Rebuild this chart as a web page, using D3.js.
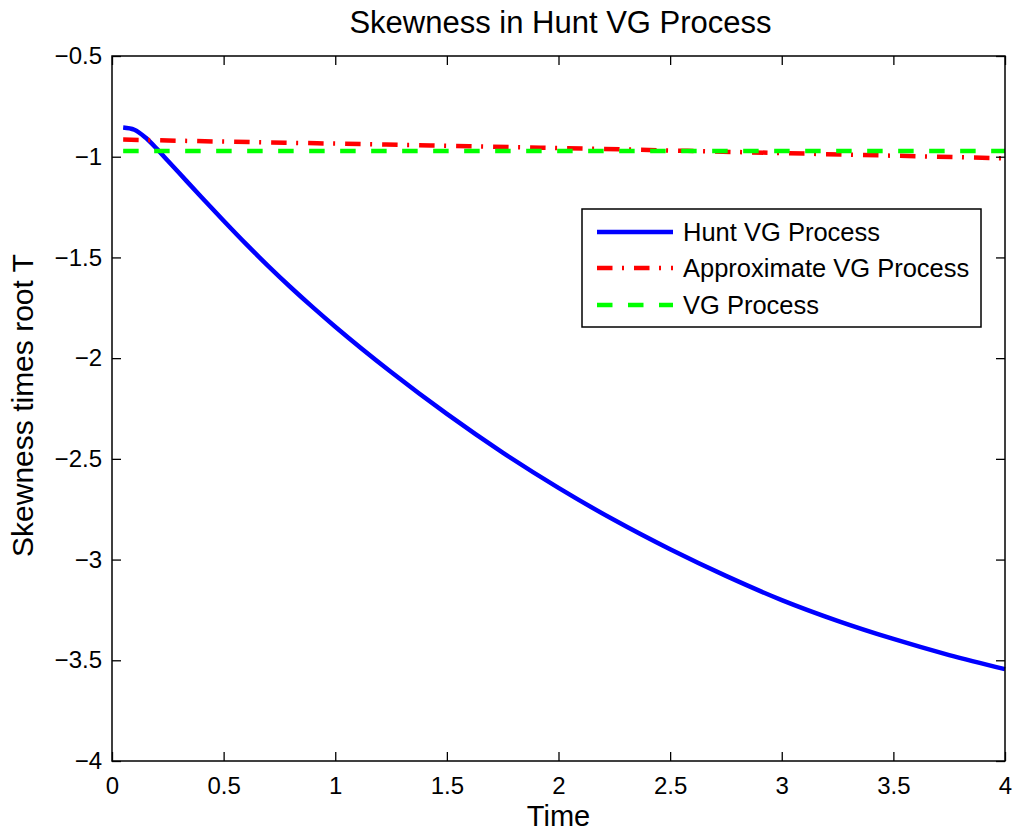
<!DOCTYPE html>
<html>
<head>
<meta charset="utf-8">
<script src="https://cdn.jsdelivr.net/npm/d3@7"></script>
<style>
  html, body { margin: 0; padding: 0; background: #fff; }
  svg { display: block; }
  text { font-family: "Liberation Sans", Arial, Helvetica, sans-serif; fill: #000; }
</style>
</head>
<body>
<svg id="chart" width="1015" height="831"></svg>
<script>
// Time grid (years) and skewness × sqrt(T) for each process
const huntTime = [0.05, 0.1, 0.15, 0.2, 0.25, 0.3, 0.4, 0.5, 0.6, 0.7, 0.8, 0.9, 1.0,
                  1.25, 1.5, 1.75, 2.0, 2.25, 2.5, 2.75, 3.0, 3.25, 3.5, 3.75, 4.0];
const huntSkew = [-0.855, -0.866, -0.905, -0.960, -1.020, -1.080, -1.200, -1.318, -1.433,
                  -1.543, -1.648, -1.748, -1.844, -2.069, -2.277, -2.469, -2.644, -2.804,
                  -2.949, -3.081, -3.201, -3.304, -3.394, -3.474, -3.544];

const approxTime = [0.05, 0.5, 1.0, 1.5, 2.0, 2.5, 3.0, 3.5, 4.0];
const approxSkew = [-0.915, -0.925, -0.935, -0.946, -0.957, -0.969, -0.982, -0.995, -1.008];

const vgTime = [0.05, 4.0];
const vgSkew = [-0.972, -0.972];

const xTickValues = [0, 0.5, 1, 1.5, 2, 2.5, 3, 3.5, 4];
const yTickValues = [-4, -3.5, -3, -2.5, -2, -1.5, -1, -0.5];

const seriesNames = ["Hunt VG Process", "Approximate VG Process", "VG Process"];

const svg = d3.select("#chart");
const plotLeft = 112, plotTop = 56, plotRight = 1005, plotBottom = 761;

const x = d3.scaleLinear().domain([0, 4]).range([plotLeft, plotRight]);
const y = d3.scaleLinear().domain([-4, -0.5]).range([plotBottom, plotTop]);

const fmt = d3.format("");

// Line styles: solid, dash-dot, dashed
const styles = [
  { color: "#0000ff", dash: null },
  { color: "#ff0000", dash: "15.5,9.5,2,10" },
  { color: "#00ff00", dash: "15.5,15.5" }
];

const series = [
  { t: huntTime, v: huntSkew },
  { t: approxTime, v: approxSkew },
  { t: vgTime, v: vgSkew }
];

const line = d3.line()
  .x(d => x(d[0]))
  .y(d => y(d[1]))
  .curve(d3.curveMonotoneX);

const plot = svg.append("g");
series.forEach((s, i) => {
  const pts = s.t.map((t, k) => [t, s.v[k]]);
  plot.append("path")
    .datum(pts)
    .attr("fill", "none")
    .attr("stroke", styles[i].color)
    .attr("stroke-width", 4.5)
    .attr("stroke-dasharray", styles[i].dash)
    .attr("stroke-linecap", "butt")
    .attr("stroke-linejoin", "round")
    .attr("d", line);
});

// Axes: ticks pointing inward on all four sides
const tickLen = 9;
const axisBottom = d3.axisBottom(x).tickValues(xTickValues).tickFormat(fmt).tickSizeInner(-tickLen).tickSizeOuter(0).tickPadding(16);
const axisTop = d3.axisTop(x).tickValues(xTickValues).tickFormat("").tickSizeInner(-tickLen).tickSizeOuter(0);
const axisLeft = d3.axisLeft(y).tickValues(yTickValues).tickFormat(fmt).tickSizeInner(-tickLen).tickSizeOuter(0).tickPadding(10);
const axisRight = d3.axisRight(y).tickValues(yTickValues).tickFormat("").tickSizeInner(-tickLen).tickSizeOuter(0);

function styleAxis(g) {
  g.attr("font-family", null).attr("font-size", null);
  g.select(".domain").remove();
  g.selectAll(".tick line").attr("stroke", "#000").attr("stroke-width", 1.3);
  g.selectAll(".tick text").style("font-size", "24px").attr("fill", "#000");
}

svg.append("g").attr("transform", `translate(0,${plotBottom})`).call(axisBottom).call(styleAxis);
svg.append("g").attr("transform", `translate(0,${plotTop})`).call(axisTop).call(styleAxis);
svg.append("g").attr("transform", `translate(${plotLeft},0)`).call(axisLeft).call(styleAxis);
svg.append("g").attr("transform", `translate(${plotRight},0)`).call(axisRight).call(styleAxis);

// Box around the plot area
svg.append("rect")
  .attr("x", plotLeft).attr("y", plotTop)
  .attr("width", plotRight - plotLeft).attr("height", plotBottom - plotTop)
  .attr("fill", "none").attr("stroke", "#000").attr("stroke-width", 1.5);

// Title and axis labels
svg.append("text")
  .attr("x", (plotLeft + plotRight) / 2 + 2).attr("y", 33)
  .attr("text-anchor", "middle")
  .style("font-size", "31px")
  .text("Skewness in Hunt VG Process");

svg.append("text")
  .attr("x", (plotLeft + plotRight) / 2).attr("y", 826)
  .attr("text-anchor", "middle")
  .style("font-size", "29px")
  .text("Time");

svg.append("text")
  .attr("transform", `translate(33,${(plotTop + plotBottom) / 2 - 3}) rotate(-90)`)
  .attr("text-anchor", "middle")
  .style("font-size", "30px")
  .text("Skewness times root T");

// Legend
const legend = svg.append("g");
legend.append("rect")
  .attr("x", 582).attr("y", 209)
  .attr("width", 399).attr("height", 118)
  .attr("fill", "#fff").attr("stroke", "#000").attr("stroke-width", 1.5);

const rowY = [232, 268, 305];
seriesNames.forEach((name, i) => {
  legend.append("line")
    .attr("x1", 597).attr("x2", 673)
    .attr("y1", rowY[i]).attr("y2", rowY[i])
    .attr("stroke", styles[i].color)
    .attr("stroke-width", 4.5)
    .attr("stroke-dasharray", styles[i].dash);
  legend.append("text")
    .attr("x", 683).attr("y", rowY[i])
    .attr("dy", "0.35em")
    .style("font-size", "25.5px")
    .text(name);
});
</script>
</body>
</html>
